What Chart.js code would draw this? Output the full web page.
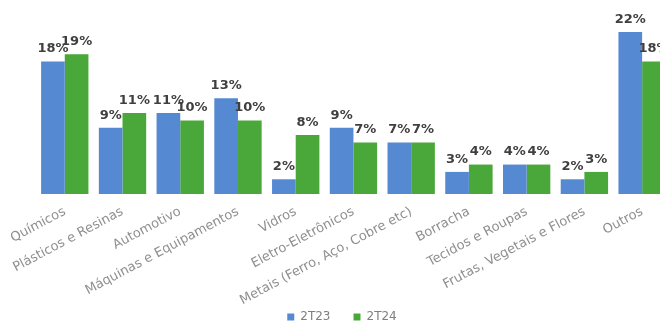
<!DOCTYPE html>
<html>
<head>
<meta charset="utf-8">
<script src="https://cdn.jsdelivr.net/npm/chart.js@4/dist/chart.umd.min.js"></script>
<style>
  html, body { margin: 0; padding: 0; background: #fff; overflow: hidden; }
  #wrap { width: 680px; height: 326px; }
</style>
</head>
<body>
<div id="wrap"><canvas id="chart" width="680" height="326"></canvas></div>
<script>
const categories = [
  'Químicos',
  'Plásticos e Resinas',
  'Automotivo',
  'Máquinas e Equipamentos',
  'Vidros',
  'Eletro-Eletrônicos',
  'Metais (Ferro, Aço, Cobre etc)',
  'Borracha',
  'Tecidos e Roupas',
  'Frutas, Vegetais e Flores',
  'Outros'
];
const share2T23 = [18, 9, 11, 13, 2, 9, 7, 3, 4, 2, 22];
const share2T24 = [19, 11, 10, 10, 8, 7, 7, 4, 4, 3, 18];

// percentage printed above each bar
const valueLabels = {
  id: 'valueLabels',
  afterDatasetsDraw(chart) {
    const ctx = chart.ctx;
    ctx.save();
    ctx.font = 'bold 13px "DejaVu Sans"';
    ctx.fillStyle = '#3f3f3f';
    ctx.textAlign = 'center';
    ctx.textBaseline = 'bottom';
    chart.data.datasets.forEach((ds, i) => {
      chart.getDatasetMeta(i).data.forEach((bar, j) => {
        ctx.fillText(ds.data[j] + '%', bar.x, bar.y - 6);
      });
    });
    ctx.restore();
  }
};

// long rotated category names run past the axis box, so let them
// extend down to the canvas edge instead of being clipped
const looseAxisClip = {
  id: 'looseAxisClip',
  afterLayout(chart) {
    chart.scales.x.bottom = chart.height;
  }
};

new Chart(document.getElementById('chart'), {
  type: 'bar',
  data: {
    labels: categories,
    datasets: [
      { label: '2T23', data: share2T23, backgroundColor: '#5589d2' },
      { label: '2T24', data: share2T24, backgroundColor: '#4aa83a' }
    ]
  },
  options: {
    responsive: false,
    animation: false,
    datasets: {
      bar: { categoryPercentage: 0.82, barPercentage: 1.0 }
    },
    layout: { padding: { left: 13, right: 9, top: 10, bottom: -7 } },
    plugins: {
      tooltip: { enabled: false },
      legend: {
        position: 'bottom',
        labels: {
          boxWidth: 7,
          boxHeight: 7,
          padding: 23,
          color: '#7f7f7f',
          font: { family: 'DejaVu Sans', size: 12 }
        }
      }
    },
    scales: {
      x: {
        grid: { display: false, drawTicks: false },
        border: { display: false },
        ticks: {
          autoSkip: false,
          minRotation: 28,
          maxRotation: 28,
          padding: 10,
          color: '#8f8f8f',
          font: { family: 'DejaVu Sans', size: 13 }
        },
        afterFit(scale) { scale.height = 94; }
      },
      y: {
        min: 0,
        max: 25,
        grid: { display: false },
        border: { display: false },
        ticks: { display: false },
        afterFit(scale) { scale.width = 22; }
      }
    }
  },
  plugins: [valueLabels, looseAxisClip]
});
</script>
</body>
</html>
